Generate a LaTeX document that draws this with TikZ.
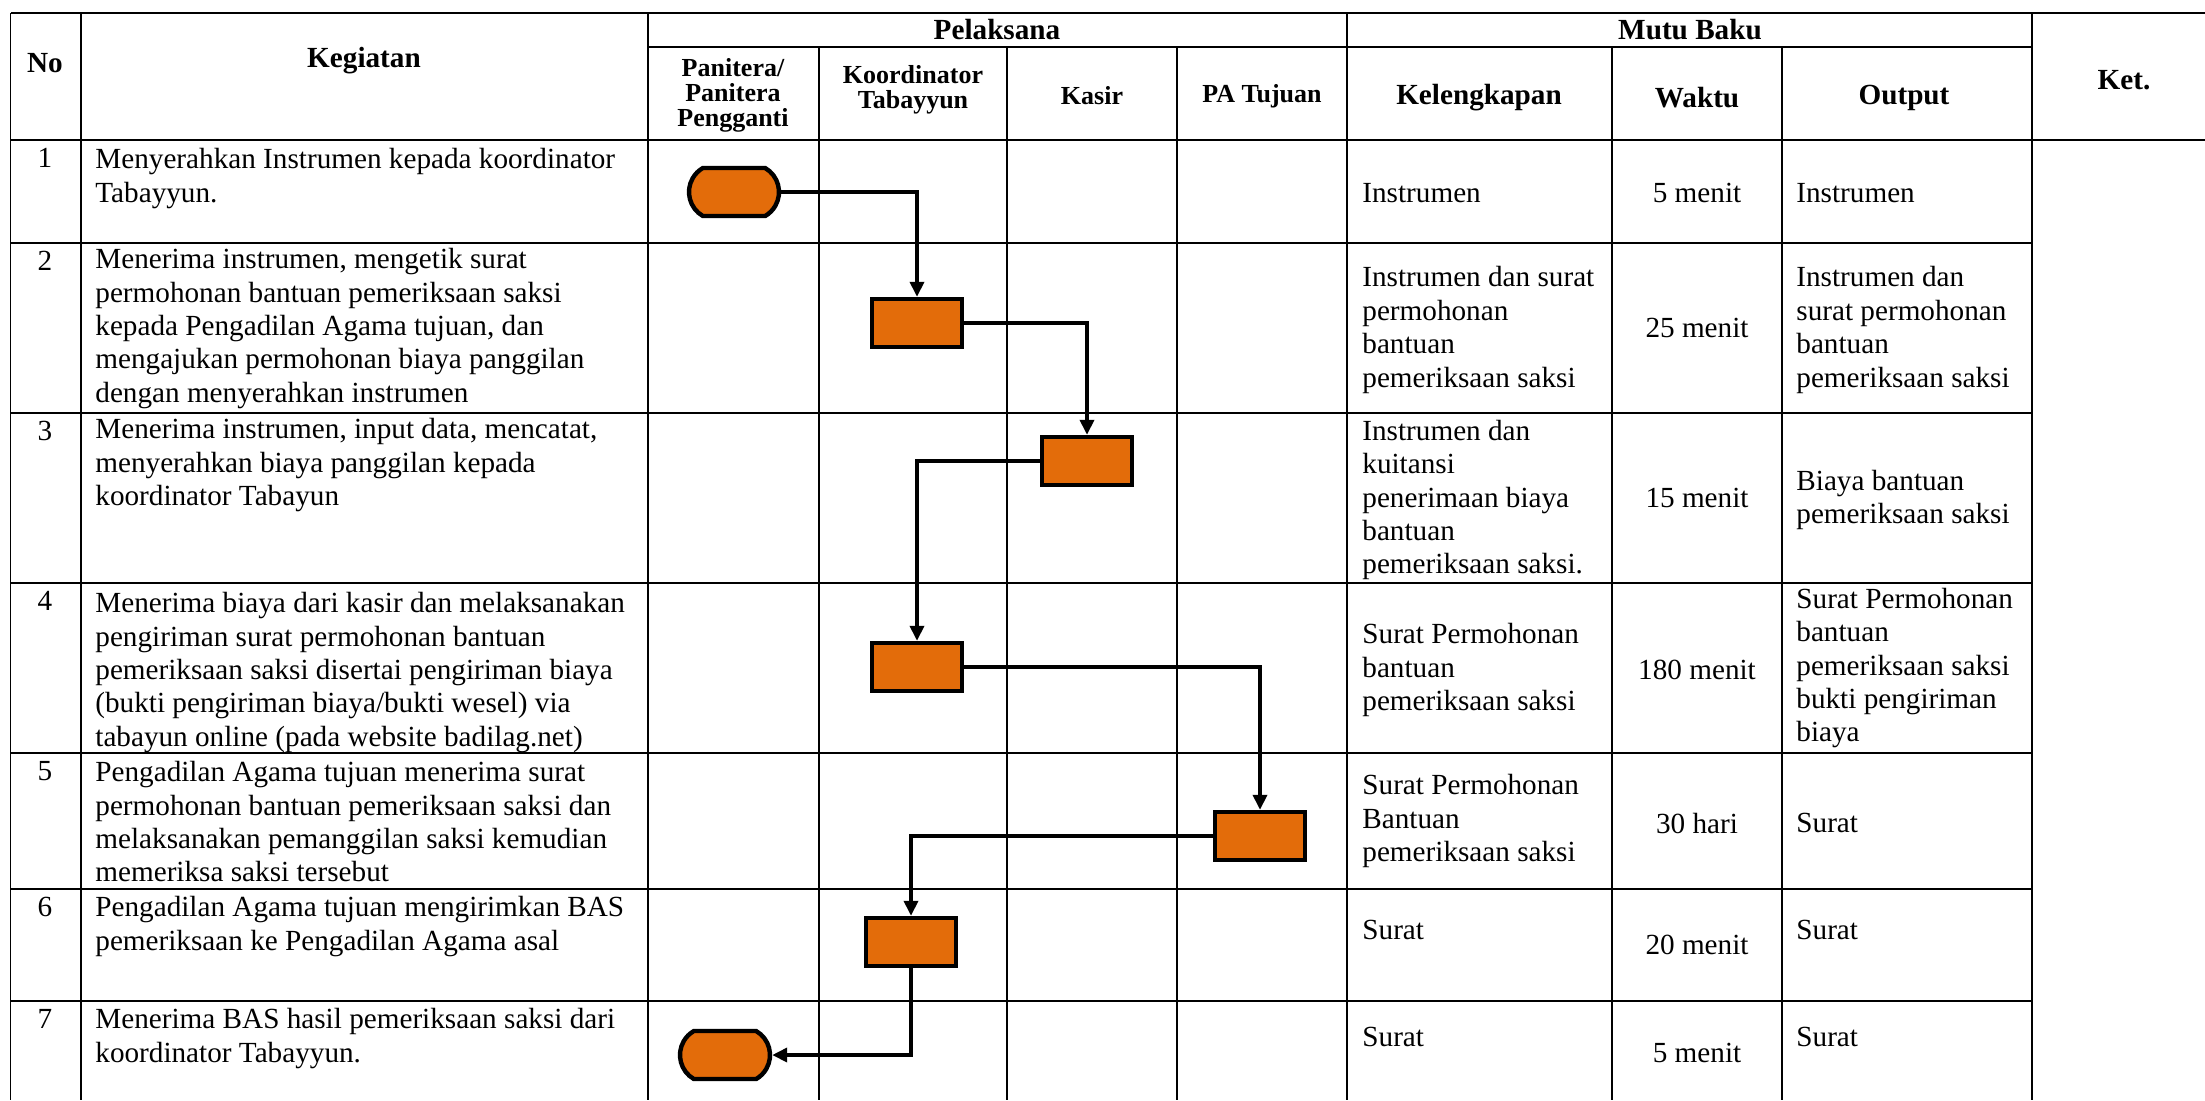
\documentclass[tikz,border=0pt]{standalone}
\usepackage{fontspec}
\setmainfont{Liberation Serif}
\usetikzlibrary{arrows.meta,shapes.misc}
\definecolor{oranye}{RGB}{227,108,10}

\begin{document}
\begin{tikzpicture}[x=0.5pt,y=-0.5pt,
  >={Triangle[length=7.5pt,width=7pt]},
  garis/.style={line width=0.7pt},
  isi/.style={inner sep=0pt,align=left,font=\fontsize{14.6}{16.7}\selectfont},
  judul/.style={inner sep=0pt,align=center,font=\fontsize{14.6}{16.7}\selectfont\bfseries},
  subjudul/.style={inner sep=0pt,align=center,font=\fontsize{13}{12.5}\selectfont\bfseries},
  proses/.style={draw,line width=2.2pt,fill=oranye,minimum width=45pt,minimum height=24pt,inner sep=0pt},
  terminal/.style={proses,rounded rectangle,rounded rectangle arc length=120},
  alur/.style={line width=1.8pt,->}]

\useasboundingbox (0,0) rectangle (2205,1100);

\draw[garis] (10.5,13) -- (2205,13);
\draw[garis] (648,47) -- (2032,47);
\draw[garis] (10.5,140) -- (2205,140);
\draw[garis] (10.5,243) -- (2032,243);
\draw[garis] (10.5,413) -- (2032,413);
\draw[garis] (10.5,583) -- (2032,583);
\draw[garis] (10.5,753) -- (2032,753);
\draw[garis] (10.5,889) -- (2032,889);
\draw[garis] (10.5,1001) -- (2032,1001);

\draw[garis] (10.5,13) -- (10.5,1100);
\draw[garis] (81,13) -- (81,1100);
\draw[garis] (648,13) -- (648,1100);
\draw[garis] (819,47) -- (819,1100);
\draw[garis] (1007,47) -- (1007,1100);
\draw[garis] (1177,47) -- (1177,1100);
\draw[garis] (1347,13) -- (1347,1100);
\draw[garis] (1612,47) -- (1612,1100);
\draw[garis] (1782,47) -- (1782,1100);
\draw[garis] (2032,13) -- (2032,1100);

\node[judul] (hno) at (45,63) {No};
\node[judul] (hkeg) at (364,61) {Kegiatan};
\node[judul] (hpel) at (997,30) {Pelaksana};
\node[judul] (hmutu) at (1690,30) {Mutu Baku};
\node[subjudul] (hpan) at (733,95) {Panitera/\\Panitera\\Pengganti};
\node[subjudul] (hkoor) at (913,90) {Koordinator\\Tabayyun};
\node[subjudul] (hkas) at (1092,96) {Kasir};
\node[subjudul] (hpa) at (1262,96) {PA Tujuan};
\node[judul] (hkel) at (1479,98) {Kelengkapan};
\node[judul] (hwak) at (1697,98) {Waktu};
\node[judul] (hout) at (1904,98) {Output};
\node[judul] (hket) at (2124,80) {Ket.};

\node[isi,anchor=north] (no1) at (45,148) {1};
\node[isi,anchor=north] (no2) at (45,251) {2};
\node[isi,anchor=north] (no3) at (45,421) {3};
\node[isi,anchor=north] (no4) at (45,591) {4};
\node[isi,anchor=north] (no5) at (45,761) {5};
\node[isi,anchor=north] (no6) at (45,897) {6};
\node[isi,anchor=north] (no7) at (45,1009) {7};

\node[isi,anchor=north west] (keg1) at (95,148) {Menyerahkan Instrumen kepada koordinator\\Tabayyun.};
\node[isi,anchor=north west] (keg2) at (95,248) {Menerima instrumen, mengetik surat\\permohonan bantuan pemeriksaan saksi\\kepada Pengadilan Agama tujuan, dan\\mengajukan permohonan biaya panggilan\\dengan menyerahkan instrumen};
\node[isi,anchor=north west] (keg3) at (95,418) {Menerima instrumen, input data, mencatat,\\menyerahkan biaya panggilan kepada\\koordinator Tabayun};
\node[isi,anchor=north west] (keg4) at (95,592) {Menerima biaya dari kasir dan melaksanakan\\pengiriman surat permohonan bantuan\\pemeriksaan saksi disertai pengiriman biaya\\(bukti pengiriman biaya/bukti wesel) via\\tabayun online (pada website badilag.net)};
\node[isi,anchor=north west] (keg5) at (95,761) {Pengadilan Agama tujuan menerima surat\\permohonan bantuan pemeriksaan saksi dan\\melaksanakan pemanggilan saksi kemudian\\memeriksa saksi tersebut};
\node[isi,anchor=north west] (keg6) at (95,896) {Pengadilan Agama tujuan mengirimkan BAS\\pemeriksaan ke Pengadilan Agama asal};
\node[isi,anchor=north west] (keg7) at (95,1008) {Menerima BAS hasil pemeriksaan saksi dari\\koordinator Tabayyun.};

\node[isi,anchor=west] (kel1) at (1362,193) {Instrumen};
\node[isi,anchor=west] (kel2) at (1362,330) {Instrumen dan surat\\permohonan\\bantuan\\pemeriksaan saksi};
\node[isi,anchor=west] (kel3) at (1362,500) {Instrumen dan\\kuitansi\\penerimaan biaya\\bantuan\\pemeriksaan saksi.};
\node[isi,anchor=west] (kel4) at (1362,670) {Surat Permohonan\\bantuan\\pemeriksaan saksi};
\node[isi,anchor=west] (kel5) at (1362,821) {Surat Permohonan\\Bantuan\\pemeriksaan saksi};
\node[isi,anchor=west] (kel6) at (1362,930) {Surat};
\node[isi,anchor=west] (kel7) at (1362,1037) {Surat};

\node[isi] (wak1) at (1697,193) {5 menit};
\node[isi] (wak2) at (1697,328) {25 menit};
\node[isi] (wak3) at (1697,498) {15 menit};
\node[isi] (wak4) at (1697,670) {180 menit};
\node[isi] (wak5) at (1697,823) {30 hari};
\node[isi] (wak6) at (1697,945) {20 menit};
\node[isi] (wak7) at (1697,1053) {5 menit};

\node[isi,anchor=west] (out1) at (1796,193) {Instrumen};
\node[isi,anchor=west] (out2) at (1796,330) {Instrumen dan\\surat permohonan\\bantuan\\pemeriksaan saksi};
\node[isi,anchor=west] (out3) at (1796,500) {Biaya bantuan\\pemeriksaan saksi};
\node[isi,anchor=west] (out4) at (1796,668) {Surat Permohonan\\bantuan\\pemeriksaan saksi\\bukti pengiriman\\biaya};
\node[isi,anchor=west] (out5) at (1796,823) {Surat};
\node[isi,anchor=west] (out6) at (1796,930) {Surat};
\node[isi,anchor=west] (out7) at (1796,1037) {Surat};

\node[terminal] (mulai) at (734,192) {};
\node[proses] (proses2) at (917,323) {};
\node[proses] (proses3) at (1087,461) {};
\node[proses] (proses4) at (917,667) {};
\node[proses] (proses5) at (1260,836) {};
\node[proses] (proses6) at (911,942) {};
\node[terminal] (selesai) at (725,1055) {};

\draw[alur] (mulai.east) -| (proses2.north);
\draw[alur] (proses2.east) -| (proses3.north);
\draw[alur] (proses3.west) -| (proses4.north);
\draw[alur] (proses4.east) -| (proses5.north);
\draw[alur] (proses5.west) -| (proses6.north);
\draw[alur] (proses6.south) |- (selesai.east);
\end{tikzpicture}
\end{document}
